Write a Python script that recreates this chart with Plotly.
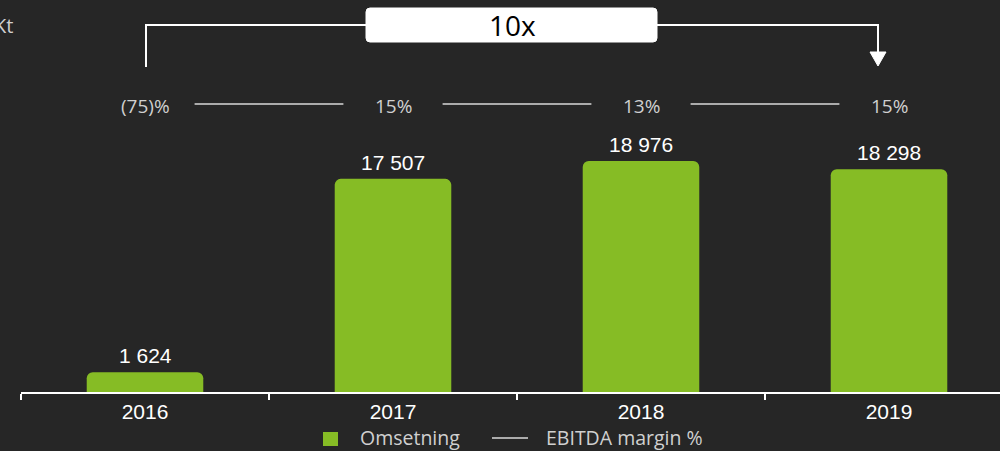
import plotly.graph_objects as go

years = ["2016", "2017", "2018", "2019"]
omsetning = [1624, 17507, 18976, 18298]
omsetning_labels = ["1 624", "17 507", "18 976", "18 298"]
ebitda_margin_labels = ["(75)%", "15%", "13%", "15%"]
multiple_label = "10x"
unit_label = "Kt"
legend_names = ["Omsetning", "EBITDA margin %"]

W, H = 1000, 451
L, R, T, B = 21, 0, 0, 59
pw, ph = W - L - R, H - T - B
BG = "#262626"
GREEN = "#86bc25"
GREY = "#d0d0d0"


def px(x):
    return (x - L) / pw


def py(y):
    return (H - B - y) / ph


idx = list(range(len(years)))

fig = go.Figure()
fig.add_trace(go.Bar(
    x=idx, y=omsetning, name=legend_names[0], marker_color=GREEN,
    width=0.47, marker_line_width=0,
))

# EBITDA margin line segments between labels
seg_x, seg_y = [], []
row = py(104)
for i in range(len(years) - 1):
    seg_x += [i + 0.2, i + 0.8, None]
    seg_y += [row, row, None]
fig.add_trace(go.Scatter(
    x=seg_x, y=seg_y, yaxis="y2", mode="lines", name=legend_names[1],
    line=dict(color="#d9d9d9", width=1.5), connectgaps=False, hoverinfo="skip",
))

annotations = []
for i, (v, lab) in enumerate(zip(omsetning, omsetning_labels)):
    annotations.append(dict(x=i, y=v, xref="x", yref="y", text=lab, showarrow=False,
                            yanchor="bottom", yshift=3,
                            font=dict(family="Liberation Sans, Arial", size=21, color="white")))
for i, lab in enumerate(ebitda_margin_labels):
    annotations.append(dict(x=i, y=py(106), xref="x", yref="paper", text=lab, showarrow=False,
                            yanchor="middle",
                            font=dict(family="Open Sans", size=19, color=GREY)))

annotations.append(dict(x=px(15), y=py(25), xref="paper", yref="paper", text=unit_label,
                        showarrow=False, xanchor="right", yanchor="middle",
                        font=dict(family="Open Sans", size=20, color=GREY)))
annotations.append(dict(x=px(512), y=py(25), xref="paper", yref="paper", text=multiple_label,
                        showarrow=False, xanchor="center", yanchor="middle",
                        font=dict(family="Open Sans", size=28, color="black")))

# manual legend
annotations.append(dict(x=px(359), y=py(437), xref="paper", yref="paper", text=legend_names[0],
                        showarrow=False, xanchor="left", yanchor="middle", borderpad=0,
                        font=dict(family="Open Sans", size=19.5, color=GREY)))
annotations.append(dict(x=px(545), y=py(437), xref="paper", yref="paper", text=legend_names[1],
                        showarrow=False, xanchor="left", yanchor="middle", borderpad=0,
                        font=dict(family="Open Sans", size=19.5, color=GREY)))

shapes = []
shapes.append(dict(type="rect", xref="paper", yref="paper",
                   x0=px(323), x1=px(338), y0=py(432), y1=py(446),
                   fillcolor=GREEN, line=dict(width=0)))
shapes.append(dict(type="line", xref="paper", yref="paper",
                   x0=px(492), x1=px(528), y0=py(438), y1=py(438),
                   line=dict(color="#d9d9d9", width=1.5)))
# bracket
x0 = px(146)
x1 = px(878)
shapes.append(dict(type="path", xref="paper", yref="paper",
                   path=f"M {x0} {py(67)} L {x0} {py(25)} L {x1} {py(25)} L {x1} {py(54)}",
                   line=dict(color="white", width=2)))
# arrow head
shapes.append(dict(type="path", xref="paper", yref="paper",
                   path=f"M {px(870)} {py(52)} L {px(886)} {py(52)} L {px(878)} {py(66)} Z",
                   fillcolor="white", line=dict(color="white", width=1)))
# rounded box
bx0, bx1, by0, by1, r = 366, 657, 8, 42, 4
path = (f"M {px(bx0 + r)} {py(by0)} L {px(bx1 - r)} {py(by0)} "
        f"Q {px(bx1)} {py(by0)} {px(bx1)} {py(by0 + r)} L {px(bx1)} {py(by1 - r)} "
        f"Q {px(bx1)} {py(by1)} {px(bx1 - r)} {py(by1)} L {px(bx0 + r)} {py(by1)} "
        f"Q {px(bx0)} {py(by1)} {px(bx0)} {py(by1 - r)} L {px(bx0)} {py(by0 + r)} "
        f"Q {px(bx0)} {py(by0)} {px(bx0 + r)} {py(by0)} Z")
shapes.append(dict(type="path", xref="paper", yref="paper", path=path,
                   fillcolor="white", line=dict(color="white", width=1)))

fig.update_layout(
    width=W, height=H,
    margin=dict(l=L, r=R, t=T, b=B, pad=0),
    paper_bgcolor=BG, plot_bgcolor=BG,
    barcornerradius=6,
    xaxis=dict(range=[-0.5, -0.5 + pw / 248], tickmode="array", tickvals=idx, ticktext=years,
               ticks="", showgrid=False, zeroline=False,
               showline=True, linecolor="white", linewidth=1.5,
               tickfont=dict(family="Liberation Sans, Arial", size=21, color="white"),
               minor=dict(tickmode="array", tickvals=[-0.5, 0.5, 1.5, 2.5], ticks="outside",
                          ticklen=6, tickcolor="white", tickwidth=1.5, showgrid=False),
               fixedrange=True),
    yaxis=dict(range=[0, 32200], visible=False, showgrid=False, zeroline=False),
    yaxis2=dict(range=[0, 1], overlaying="y", visible=False, showgrid=False, zeroline=False),
    annotations=annotations,
    shapes=shapes,
    showlegend=False,
)

fig.write_html("out.html", config={"displayModeBar": False},
               post_script="document.body.style.margin='0';document.body.style.overflow='hidden';document.body.style.background='#262626';")
